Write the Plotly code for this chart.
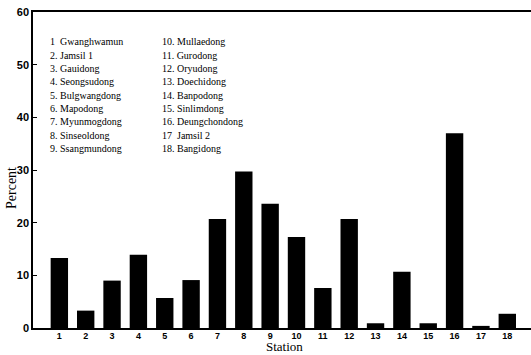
import plotly.graph_objects as go

stations = list(range(1, 19))
percent = [13.3, 3.3, 9.0, 13.9, 5.7, 9.1, 20.7, 29.7, 23.6, 17.3, 7.6, 20.7, 0.9, 10.7, 0.9, 37.0, 0.4, 2.7]
station_names = ["Gwanghwamun", "Jamsil 1", "Gauidong", "Seongsudong", "Bulgwangdong",
                 "Mapodong", "Myunmogdong", "Sinseoldong", "Ssangmundong", "Mullaedong",
                 "Gurodong", "Oryudong", "Doechidong", "Banpodong", "Sinlimdong",
                 "Deungchondong", "Jamsil 2", "Bangidong"]
y_ticks = [0, 10, 20, 30, 40, 50, 60]

fig = go.Figure(go.Bar(x=stations, y=percent, width=0.66,
                       marker=dict(color="black", line=dict(width=0))))

W, H = 531, 355
L, T, B = 33, 12, 27
pw, ph = W - L, H - T - B
SERIF = "Liberation Serif, Times New Roman, serif"

def px(xp):
    return (xp - L) / pw

def py(yp):
    return (H - B - yp) / ph

annotations = []
for i, name in enumerate(station_names):
    col = i // 9
    row = i % 9
    xpx = 48 if col == 0 else 160
    ypx = 42 + row * 13.3
    n = i + 1
    label = f"{n}  {name}" if n in (1, 17) else f"{n}. {name}"
    annotations.append(dict(
        text=label, xref="paper", yref="paper",
        x=px(xpx), y=py(ypx),
        xanchor="left", yanchor="middle", showarrow=False,
        font=dict(family=SERIF, size=10, color="black")))

annotations.append(dict(text="Station", xref="paper", yref="paper",
                        x=px(284), y=py(346), xanchor="center", yanchor="middle",
                        showarrow=False, font=dict(family=SERIF, size=13, color="black")))
annotations.append(dict(text="Percent", xref="paper", yref="paper",
                        x=px(11), y=py(188), xanchor="center", yanchor="middle",
                        textangle=-90, showarrow=False,
                        font=dict(family=SERIF, size=14, color="black")))

fig.update_layout(
    width=W, height=H,
    margin=dict(l=L, r=0, t=T, b=B, pad=0),
    paper_bgcolor="white", plot_bgcolor="white",
    showlegend=False,
    annotations=annotations,
    xaxis=dict(range=[0, 18.9], tickvals=stations, ticktext=[str(s) for s in stations],
               showgrid=False, zeroline=False, showline=True, linecolor="black",
               linewidth=1.5, mirror=True, ticks="", ticklabelstandoff=-2,
               tickfont=dict(family="Liberation Sans", size=9, color="black", weight="bold")),
    yaxis=dict(range=[0, 60], tickvals=y_ticks, showgrid=False, zeroline=False,
               showline=True, linecolor="black", linewidth=1.5, ticks="inside",
               ticklen=4, tickcolor="black", tickwidth=1,
               tickfont=dict(family="Liberation Sans", size=11, color="black", weight="bold")),
)
fig.update_layout(bargap=0.34)

fig.write_html("out.html")
